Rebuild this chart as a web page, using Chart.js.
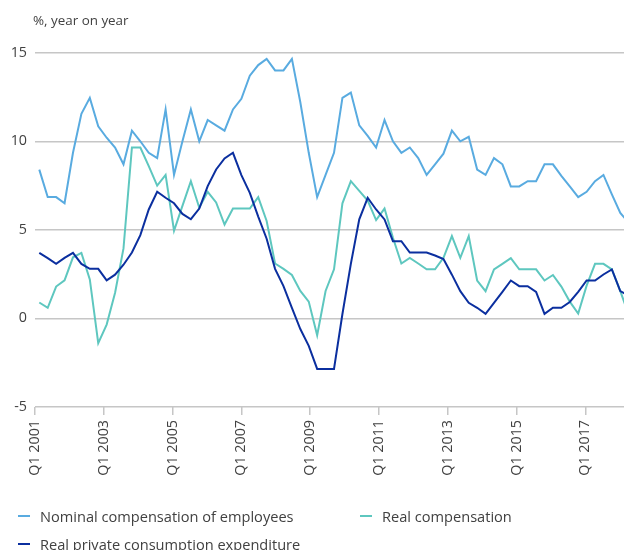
<!DOCTYPE html>
<html><head><meta charset="utf-8">
<script src="https://cdn.jsdelivr.net/npm/chart.js@4/dist/chart.umd.min.js"></script>
<style>
body{margin:0;background:#fff;font-family:"Open Sans",sans-serif;color:#414141}
#wrap{position:relative;width:624px;height:550px;overflow:hidden}
#c{position:absolute;left:0;top:0}
#title{position:absolute;left:33px;top:11px;font-size:13.4px;line-height:18px;color:#414141}
.leg{position:absolute;height:20px;font-size:14.6px;display:flex;align-items:center;white-space:nowrap;color:#414141}
.leg i{display:inline-block;width:12px;height:2px;margin-right:10px}
</style></head>
<body><div id="wrap"><canvas id="c" width="624" height="550"></canvas>
<div id="title">%, year on year</div><div id="legend"></div></div>
<script>
const quarters = ["Q1 2001","Q2 2001","Q3 2001","Q4 2001","Q1 2002","Q2 2002","Q3 2002","Q4 2002",
"Q1 2003","Q2 2003","Q3 2003","Q4 2003","Q1 2004","Q2 2004","Q3 2004","Q4 2004",
"Q1 2005","Q2 2005","Q3 2005","Q4 2005","Q1 2006","Q2 2006","Q3 2006","Q4 2006",
"Q1 2007","Q2 2007","Q3 2007","Q4 2007","Q1 2008","Q2 2008","Q3 2008","Q4 2008",
"Q1 2009","Q2 2009","Q3 2009","Q4 2009","Q1 2010","Q2 2010","Q3 2010","Q4 2010",
"Q1 2011","Q2 2011","Q3 2011","Q4 2011","Q1 2012","Q2 2012","Q3 2012","Q4 2012",
"Q1 2013","Q2 2013","Q3 2013","Q4 2013","Q1 2014","Q2 2014","Q3 2014","Q4 2014",
"Q1 2015","Q2 2015","Q3 2015","Q4 2015","Q1 2016","Q2 2016","Q3 2016","Q4 2016",
"Q1 2017","Q2 2017","Q3 2017","Q4 2017","Q1 2018","Q2 2018","Q3 2018"];

const tickLabels = ["Q1 2001","Q1 2003","Q1 2005","Q1 2007","Q1 2009","Q1 2011","Q1 2013","Q1 2015","Q1 2017"];

const nominalComp = [8.4,6.85,6.85,6.5,9.35,11.55,12.45,10.85,10.2,9.65,8.7,10.6,10.0,9.35,9.05,11.8,
8.1,10.0,11.8,10.0,11.2,10.9,10.6,11.8,12.4,13.7,14.3,14.65,14.0,14.0,14.65,12.2,
9.35,6.85,8.1,9.35,12.45,12.75,10.9,10.3,9.65,11.2,10.0,9.35,9.65,9.05,8.1,8.7,
9.3,10.6,10.0,10.25,8.4,8.1,9.05,8.7,7.45,7.45,7.75,7.75,8.7,8.7,8.05,7.45,
6.85,7.15,7.75,8.1,7.0,5.95,5.4];

const realComp = [0.9,0.6,1.8,2.15,3.45,3.7,2.2,-1.4,-0.35,1.45,3.95,9.65,9.65,8.6,7.5,8.1,
4.95,6.35,7.75,6.25,7.15,6.55,5.3,6.2,6.2,6.2,6.85,5.5,3.1,2.8,2.45,1.55,
0.95,-0.95,1.55,2.77,6.5,7.75,7.2,6.65,5.55,6.2,4.55,3.1,3.42,3.1,2.77,2.77,
3.42,4.65,3.42,4.65,2.14,1.54,2.77,3.08,3.4,2.77,2.77,2.77,2.14,2.45,1.8,0.95,
0.28,1.85,3.08,3.08,2.77,1.54,0.2];

const realConsumption = [3.7,3.4,3.08,3.42,3.7,3.08,2.8,2.8,2.15,2.47,3.03,3.72,4.7,6.15,7.15,6.81,
6.5,5.9,5.6,6.2,7.47,8.41,9.03,9.35,8.09,7.09,5.75,4.5,2.8,1.82,0.6,-0.6,
-1.55,-2.85,-2.85,-2.85,0.25,3.08,5.59,6.81,6.15,5.59,4.36,4.36,3.72,3.72,3.72,3.55,
3.35,2.47,1.54,0.88,0.6,0.26,0.88,1.5,2.14,1.82,1.82,1.5,0.26,0.6,0.6,0.93,
1.5,2.14,2.14,2.48,2.77,1.54,1.3];

const seriesNames = ["Nominal compensation of employees","Real compensation","Real private consumption expenditure"];
const seriesColors = ["#59abe0","#5ec7bf","#0b2f9f"];
const seriesData = [nominalComp, realComp, realConsumption];

Chart.defaults.font.family = '"Open Sans", sans-serif';
Chart.defaults.font.size = 14;
Chart.defaults.color = '#414141';

const datasets = seriesData.map((vals, k) => ({
  label: seriesNames[k],
  data: vals.map((v, i) => ({x: i, y: v})),
  borderColor: seriesColors[k],
  backgroundColor: seriesColors[k],
  borderWidth: 2,
  pointRadius: 0,
  tension: 0,
  fill: false,
  xAxisID: 'x',
  order: 2 - k
}));

new Chart(document.getElementById('c'), {
  type: 'line',
  data: { labels: quarters, datasets },
  options: {
    responsive: false,
    animation: false,
    layout: { padding: { top: 52.7, left: 0, right: 0, bottom: 63 } },
    plugins: { legend: { display: false }, tooltip: { enabled: false } },
    scales: {
      x: {
        type: 'linear', display: false,
        min: -0.51, max: 69.44
      },
      xt: {
        type: 'linear', position: 'bottom',
        min: 0, max: 68.5,
        afterBuildTicks: s => { s.ticks = tickLabels.map(l => ({ value: quarters.indexOf(l) })); },
        afterFit: s => { s.height = 80; },
        grid: { drawOnChartArea: false, drawTicks: true, tickLength: 8, color: '#c6c6c6', lineWidth: 1.5 },
        border: { display: false },
        ticks: {
          autoSkip: false, minRotation: 90, maxRotation: 90, padding: 5,
          color: '#414141', font: { size: 14.3 },
          callback: (v, i) => tickLabels[i]
        }
      },
      y: {
        min: -5, max: 15,
        afterFit: s => { s.width = 35; },
        grid: { color: '#c6c6c6', lineWidth: 1.5, drawTicks: false },
        border: { display: false },
        ticks: { stepSize: 5, padding: 8, color: '#414141', font: { size: 14.3 } }
      }
    }
  }
});

const legendPos = [[18, 506], [360, 506], [18, 534]];
const legendEl = document.getElementById('legend');
seriesNames.forEach((name, k) => {
  const d = document.createElement('div');
  d.className = 'leg';
  d.style.left = legendPos[k][0] + 'px';
  d.style.top = legendPos[k][1] + 'px';
  const m = document.createElement('i');
  m.style.background = seriesColors[k];
  d.appendChild(m);
  d.appendChild(document.createTextNode(name));
  legendEl.appendChild(d);
});
</script></body></html>
